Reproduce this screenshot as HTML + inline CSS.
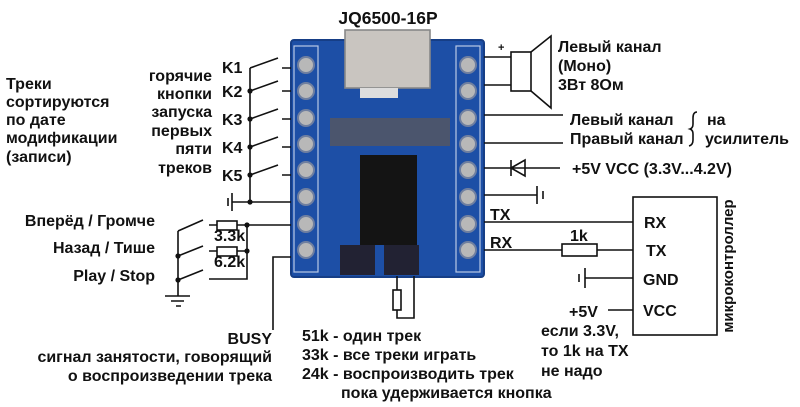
<!DOCTYPE html><html><head><meta charset="utf-8"><style>
html,body{margin:0;padding:0;background:#fff}
svg{display:block}
text{font-family:"Liberation Sans",Arial,sans-serif;font-weight:bold;font-size:16px;fill:#111}
</style></head><body>
<svg width="800" height="407" viewBox="0 0 800 407" xmlns="http://www.w3.org/2000/svg">
<g stroke="#111" stroke-width="1.6" fill="none">
<rect x="291" y="40" width="193" height="237" rx="3" fill="#1d4fa6" stroke="#163e86" stroke-width="2"/>
<rect x="294" y="46" width="24" height="226" fill="none" stroke="#b9c8e6" stroke-width="1.2"/>
<rect x="456" y="46" width="24" height="226" fill="none" stroke="#b9c8e6" stroke-width="1.2"/>
<rect x="345" y="30" width="85" height="58" fill="#c9c5c0" stroke="#888"/>
<rect x="360" y="88" width="38" height="10" fill="#ddd" stroke="none"/>
<rect x="360" y="155" width="57" height="90" fill="#141414" stroke="none"/>
<rect x="340" y="245" width="35" height="30" fill="#223" stroke="none"/>
<rect x="384" y="245" width="35" height="30" fill="#223" stroke="none"/>
<rect x="330" y="118" width="120" height="28" fill="#6a5a48" stroke="none" opacity="0.6"/>
</g>
<g fill="#b8b8b8" stroke="#6f7fa0" stroke-width="2">
<circle cx="306" cy="65" r="8"/><circle cx="306" cy="91" r="8"/><circle cx="306" cy="118" r="8"/><circle cx="306" cy="144" r="8"/>
<circle cx="306" cy="170" r="8"/><circle cx="306" cy="197" r="8"/><circle cx="306" cy="224" r="8"/><circle cx="306" cy="250" r="8"/>
<circle cx="468" cy="65" r="8"/><circle cx="468" cy="91" r="8"/><circle cx="468" cy="118" r="8"/><circle cx="468" cy="144" r="8"/>
<circle cx="468" cy="170" r="8"/><circle cx="468" cy="197" r="8"/><circle cx="468" cy="224" r="8"/><circle cx="468" cy="250" r="8"/>
</g>
<g stroke="#111" stroke-width="1.6" fill="none">
<path d="M250 68V202M250 202H291M282 68H291M282 91H291M282 119H291M282 147H291M282 175H291"/>
<path d="M250 68L278 58M250 91L278 81M250 119L278 109M250 147L278 137M250 175L278 165"/>
<path d="M232 202H250M232 193V211M228 198V206"/>
<path d="M178 231V296M165 296H190M171 301H184M176 306H181"/>
<path d="M178 231L203 220M178 256L203 246M178 280L203 270"/>
<path d="M209 225H217M237 225H291M209 251H217M237 251H247M209 279H247V225"/>
<rect x="217" y="221" width="20" height="9"/><rect x="217" y="247" width="20" height="9"/>
<path d="M291 257H273V330"/>
<path d="M397 276V290M397 310V318H414V276"/><rect x="393" y="290" width="8" height="20"/>
<path d="M484 57H511M484 85H511"/>
<rect x="511" y="52" width="20" height="39"/><path d="M531 52L551 36V108L531 91"/>
<path d="M484 115H563M484 143H563"/>
<path d="M484 168H560M511 168L525 160V176ZM511 160V176"/>
<path d="M484 195H537M537 186V204M543 191V199"/>
<path d="M697 112q-4 0-4 6v6q0 4-3 5q3 1 3 5v6q0 5-4 6"/>
<rect x="633" y="197" width="84" height="138"/>
<path d="M484 222H633M484 250H562M597 250H633"/><rect x="562" y="244" width="35" height="12"/>
<path d="M585 278H633M585 268V288M579 274V282M608 310H633"/>
</g>
<g fill="#111">
<circle cx="250" cy="91" r="2.6"/><circle cx="250" cy="119" r="2.6"/><circle cx="250" cy="147" r="2.6"/><circle cx="250" cy="175" r="2.6"/><circle cx="250" cy="202" r="2.6"/>
<circle cx="178" cy="256" r="2.6"/><circle cx="178" cy="280" r="2.6"/><circle cx="247" cy="225" r="2.6"/><circle cx="247" cy="251" r="2.6"/>
</g>
<text x="388" y="24" text-anchor="middle" style="font-size:17.5px">JQ6500-16P</text>
<text x="6" y="89">Треки</text><text x="6" y="107">сортируются</text><text x="6" y="125">по дате</text><text x="6" y="143">модификации</text><text x="6" y="162">(записи)</text>
<g text-anchor="end"><text x="212" y="81">горячие</text><text x="212" y="99">кнопки</text><text x="212" y="117">запуска</text><text x="212" y="136">первых</text><text x="212" y="154">пяти</text><text x="212" y="173">треков</text>
<text x="155" y="226">Вперёд / Громче</text><text x="155" y="253">Назад / Тише</text><text x="155" y="281">Play / Stop</text>
<text x="272" y="344">BUSY</text><text x="272" y="362">сигнал занятости, говорящий</text><text x="272" y="381">о воспроизведении трека</text></g>
<text x="222" y="73">K1</text><text x="222" y="97">K2</text><text x="222" y="125">K3</text><text x="222" y="153">K4</text><text x="222" y="181">K5</text>
<g style="font-size:11px"><text x="214" y="241">3.3k</text><text x="214" y="267">6.2k</text></g>
<text x="498" y="51" style="font-size:11px">+</text>
<text x="558" y="52">Левый канал</text><text x="558" y="71">(Моно)</text><text x="558" y="90">3Вт 8Ом</text>
<text x="570" y="125">Левый канал</text><text x="570" y="144">Правый канал</text><text x="707" y="125">на</text><text x="705" y="144">усилитель</text>
<text x="572" y="174">+5V  VCC (3.3V...4.2V)</text>
<text x="490" y="220">TX</text><text x="490" y="248">RX</text><text x="570" y="241">1k</text>
<text x="644" y="228">RX</text><text x="646" y="256">TX</text><text x="643" y="285">GND</text><text x="643" y="316">VCC</text>
<text x="569" y="317">+5V</text><text x="541" y="336">если 3.3V,</text><text x="541" y="356">то 1k на TX</text><text x="541" y="376">не надо</text>
<text transform="translate(733,266) rotate(-90)" text-anchor="middle" style="font-size:15px">микроконтроллер</text>
<text x="302" y="341">51k - один трек</text><text x="302" y="360">33k - все треки играть</text><text x="302" y="379">24k - воспроизводить трек</text><text x="341" y="398">пока удерживается кнопка</text>
</svg>
</body></html>
